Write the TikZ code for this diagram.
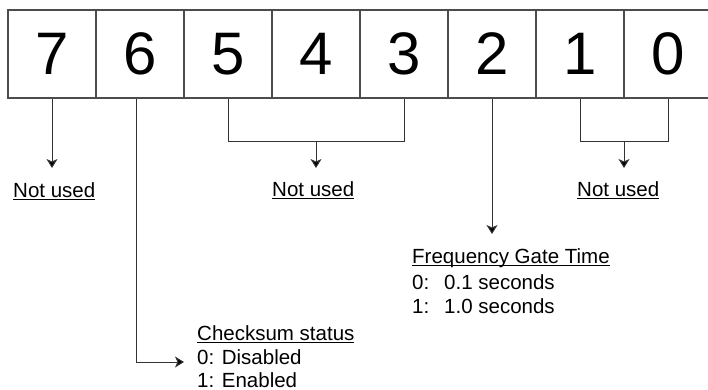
\documentclass[tikz,border=0pt]{standalone}
\usepackage{fontspec}
\setmainfont{Liberation Sans}
\usetikzlibrary{arrows.meta}
\newcommand\ulin[1]{\setbox0\hbox{#1}\rlap{\rule[-3pt]{\wd0}{1.1pt}}\box0}
\begin{document}
\begin{tikzpicture}[x=1pt,y=1pt,
  cell/.style={draw=black!70, line width=1.2pt, minimum width=88pt, minimum height=88pt, inner sep=0pt, font=\fontsize{60}{60}\selectfont},
  lbl/.style={anchor=base west, inner sep=0pt, font=\fontsize{20.5}{24}\selectfont},
  conn/.style={draw=black!80, line width=1pt},
  arr/.style={conn, arrows={-Stealth[length=9pt,width=11pt,inset=2.5pt,fill=black]}}]
\useasboundingbox (0,0) rectangle (708,-390);
\clip (0,0) rectangle (708,-390);
% register cells
\node[cell] (c7) at (52,-54) {7};
\node[cell] (c6) at (140,-54) {6};
\node[cell] (c5) at (228,-54) {5};
\node[cell] (c4) at (316,-54) {4};
\node[cell] (c3) at (404,-54) {3};
\node[cell] (c2) at (492,-54) {2};
\node[cell] (c1) at (580,-54) {1};
\node[cell] (c0) at (668,-54) {0};
% labels
\node[lbl] (n7) at (13,-197) {\ulin{Not used}};
\node[lbl] (n543) at (272,-196) {\ulin{Not used}};
\node[lbl] (n10) at (577,-196) {\ulin{Not used}};
\node[lbl] (fg) at (412,-263) {\ulin{Frequency Gate Time}};
\node[lbl] (fg0) at (412,-289) {\makebox[32pt][l]{0:}0.1 seconds};
\node[lbl] (fg1) at (412,-313) {\makebox[32pt][l]{1:}1.0 seconds};
\node[lbl] (cs) at (197,-340) {\ulin{Checksum status}};
\node[lbl] (cs0) at (197,-364) {0: Disabled};
\node[lbl] (cs1) at (197,-387) {1: Enabled};
% connector points
\coordinate (t7) at (52,-168);
\coordinate (b543) at (316,-142);
\coordinate (t543) at (316,-168);
\coordinate (b10) at (624,-142);
\coordinate (t10) at (624,-168);
\coordinate (t2) at (492,-234);
\coordinate (t6) at (184,-362);
% connectors
\draw[arr] (c7.south) -- (t7);
\draw[conn] (c5.south) -- (c5.south |- b543) -| (c3.south);
\draw[arr] (b543) -- (t543);
\draw[conn] (c1.south) -- (c1.south |- b10) -| (c0.south);
\draw[arr] (b10) -- (t10);
\draw[arr] (c2.south) -- (t2);
\draw[arr] ([xshift=-4pt]c6.south) |- (t6);
\end{tikzpicture}
\end{document}
